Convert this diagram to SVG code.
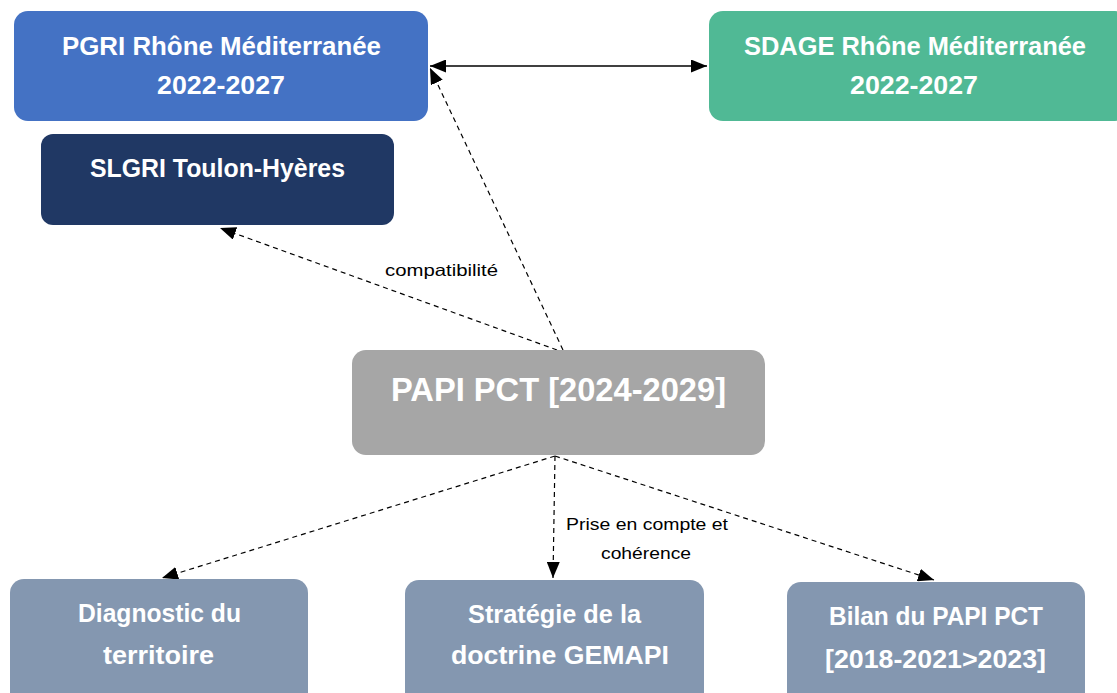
<svg xmlns="http://www.w3.org/2000/svg" width="1117" height="693" viewBox="0 0 1117 693">
<defs>
<marker id="ah" viewBox="0 0 16 13" refX="16" refY="6.5" markerWidth="16" markerHeight="13" markerUnits="userSpaceOnUse" orient="auto-start-reverse">
<path d="M0,0 L16,6.5 L0,13 Z" fill="#000"/>
</marker>
<style>
.n{font-family:"Liberation Sans",Arial,sans-serif;font-weight:bold;fill:#fff;text-anchor:middle}
.l{font-family:"Liberation Sans",Arial,sans-serif;font-size:16.5px;fill:#000;text-anchor:middle}
.d{fill:none;stroke:#000;stroke-width:1.2;stroke-dasharray:5,4}
.s{fill:none;stroke:#000;stroke-width:1.5}
</style>
</defs>
<rect width="1117" height="693" fill="#fff"/>
<g id="connectors">
<line class="s" x1="430" y1="66" x2="707" y2="66" marker-start="url(#ah)" marker-end="url(#ah)"/>
<line class="d" x1="563" y1="350" x2="430" y2="68" marker-end="url(#ah)"/>
<line class="d" x1="557" y1="350" x2="220" y2="228" marker-end="url(#ah)"/>
<line class="d" x1="555" y1="456" x2="162" y2="578" marker-end="url(#ah)"/>
<line class="d" x1="555" y1="456" x2="553" y2="578" marker-end="url(#ah)"/>
<line class="d" x1="555" y1="456" x2="934" y2="580" marker-end="url(#ah)"/>
<text class="l" x="441.5" y="276" textLength="113" lengthAdjust="spacingAndGlyphs">compatibilité</text>
<text class="l" x="647" y="530" textLength="162" lengthAdjust="spacingAndGlyphs">Prise en compte et</text>
<text class="l" x="646" y="559" textLength="90" lengthAdjust="spacingAndGlyphs">cohérence</text>
</g>
<g id="pgri">
<rect x="14" y="11" width="414" height="110" rx="14" fill="#4472C4"/>
<text class="n" x="221.5" y="55" font-size="25" textLength="319" lengthAdjust="spacingAndGlyphs">PGRI Rhône Méditerranée</text>
<text class="n" x="221" y="94" font-size="25" textLength="128" lengthAdjust="spacingAndGlyphs">2022-2027</text>
</g>
<g id="sdage">
<rect x="709" y="11" width="420" height="110" rx="14" fill="#50B995"/>
<text class="n" x="915" y="55" font-size="25" textLength="342" lengthAdjust="spacingAndGlyphs">SDAGE Rhône Méditerranée</text>
<text class="n" x="914" y="94" font-size="25" textLength="128" lengthAdjust="spacingAndGlyphs">2022-2027</text>
</g>
<g id="slgri">
<rect x="41" y="134" width="353" height="91" rx="12" fill="#203864"/>
<text class="n" x="217.5" y="177" font-size="25" textLength="255" lengthAdjust="spacingAndGlyphs">SLGRI Toulon-Hyères</text>
</g>
<g id="papi">
<rect x="352" y="350" width="413" height="105" rx="14" fill="#A6A6A6"/>
<text class="n" x="558.5" y="401" font-size="33" textLength="335" lengthAdjust="spacingAndGlyphs">PAPI PCT [2024-2029]</text>
</g>
<g id="diagnostic">
<rect x="10" y="579" width="298" height="130" rx="14" fill="#8497B0"/>
<text class="n" x="159.5" y="622" font-size="25" textLength="163" lengthAdjust="spacingAndGlyphs">Diagnostic du</text>
<text class="n" x="158.5" y="664" font-size="25" textLength="111" lengthAdjust="spacingAndGlyphs">territoire</text>
</g>
<g id="strategie">
<rect x="405" y="580" width="299" height="130" rx="14" fill="#8497B0"/>
<text class="n" x="554.5" y="623" font-size="25" textLength="173" lengthAdjust="spacingAndGlyphs">Stratégie de la</text>
<text class="n" x="560" y="664" font-size="25" textLength="218" lengthAdjust="spacingAndGlyphs">doctrine GEMAPI</text>
</g>
<g id="bilan">
<rect x="787" y="582" width="298" height="130" rx="14" fill="#8497B0"/>
<text class="n" x="936" y="625" font-size="25" textLength="214" lengthAdjust="spacingAndGlyphs">Bilan du PAPI PCT</text>
<text class="n" x="935.5" y="668" font-size="25" textLength="221" lengthAdjust="spacingAndGlyphs">[2018-2021&gt;2023]</text>
</g>
</svg>
